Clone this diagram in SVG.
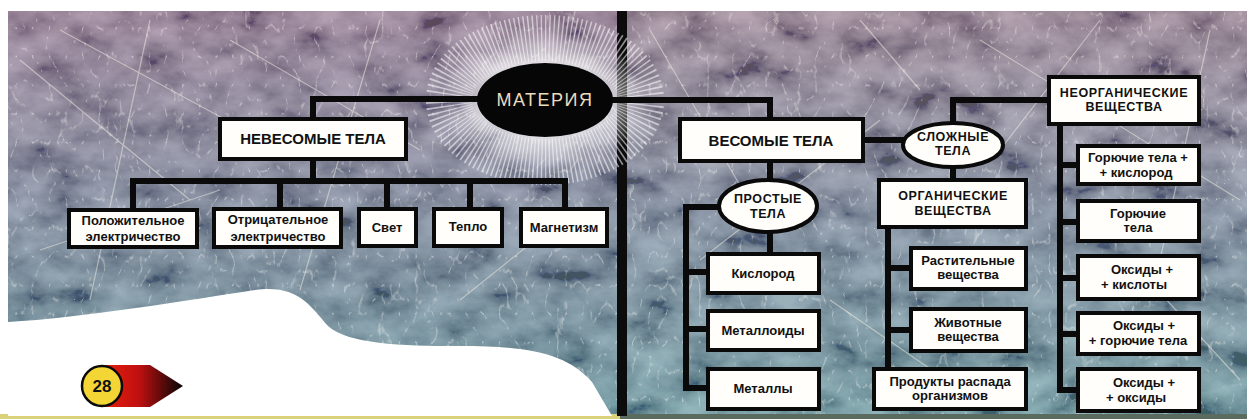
<svg xmlns="http://www.w3.org/2000/svg" width="1247" height="419" viewBox="0 0 1247 419">
<style>
.box{fill:#fffefa;stroke:#0a0a0a;stroke-width:4}
.ell{fill:#fffefa;stroke:#0a0a0a;stroke-width:4}
.t{font-family:"Liberation Sans",Arial,sans-serif;font-weight:bold;fill:#111;text-anchor:middle}
.s{font-size:13px}
.h{font-size:15px}
.c{font-size:12.5px;letter-spacing:0.6px}
.con{fill:none;stroke:#0a0a0a;stroke-width:6;stroke-linejoin:miter;stroke-linecap:square}
.streak{fill:none;stroke:#f4efe6;stroke-width:1.2;opacity:0.5}
</style>
<defs>
<linearGradient id="bgL" x1="0" y1="0" x2="0" y2="1">
<stop offset="0" stop-color="#8c6c86"/>
<stop offset="0.45" stop-color="#6f7a90"/>
<stop offset="1" stop-color="#4f8890"/>
</linearGradient>
<linearGradient id="bgR" x1="0" y1="0" x2="0" y2="1">
<stop offset="0" stop-color="#907486"/>
<stop offset="0.5" stop-color="#718296"/>
<stop offset="1" stop-color="#5a9298"/>
</linearGradient>
<filter id="marble" x="0" y="0" width="100%" height="100%">
<feTurbulence type="fractalNoise" baseFrequency="0.022 0.035" numOctaves="5" seed="7"/>
<feColorMatrix type="matrix" values="1.7 0 0 0 -0.38  1.7 0 0 0 -0.38  1.7 0 0 0 -0.33  0 0 0 0 0.34"/>
</filter>
<filter id="fine" x="0" y="0" width="100%" height="100%">
<feTurbulence type="turbulence" baseFrequency="0.06 0.035" numOctaves="3" seed="2"/>
<feColorMatrix type="matrix" values="0 0 0 0 1  0 0 0 0 0.97  0 0 0 0 0.93  -7 0 0 0 0.95"/>
</filter>
<radialGradient id="glow" cx="0.5" cy="0.5" r="0.5">
<stop offset="0.55" stop-color="#ffffff" stop-opacity="0.95"/>
<stop offset="1" stop-color="#ffffff" stop-opacity="0"/>
</radialGradient>
<linearGradient id="badge" x1="0" y1="0" x2="1" y2="0">
<stop offset="0" stop-color="#e8200c"/>
<stop offset="0.45" stop-color="#c01010"/>
<stop offset="1" stop-color="#050505"/>
</linearGradient>
</defs>

<!-- page background -->
<rect x="0" y="0" width="1247" height="419" fill="#ffffff"/>
<rect x="8" y="11" width="612" height="405" fill="url(#bgL)"/>
<rect x="620" y="11" width="627" height="405" fill="url(#bgR)"/>
<rect x="8" y="11" width="1239" height="405" filter="url(#marble)"/>
<rect x="8" y="11" width="1239" height="405" filter="url(#fine)" opacity="0.45"/>
<g id="streaks">
<path class="streak" d="M20,60 L190,200 M60,30 L300,160 M150,20 L90,300 M230,40 L420,150 M380,20 L300,290 M650,30 L760,220 M700,260 L880,120 M980,40 L1240,200 M1100,20 L1000,150 M1130,260 L1240,380 M830,300 L990,410 M560,220 L460,300 M40,250 L220,190 M1210,30 L1160,260 M860,20 L920,90"/>
</g>
<rect x="0" y="414" width="620" height="5" fill="#d9d27a"/>
<rect x="620" y="414" width="627" height="5" fill="#5c6b60"/>

<!-- white blob lower left -->
<path id="blob" d="M8,322 C80,318 190,300 255,290 C298,284 310,306 328,326 C348,344 400,346 460,346 C525,346 566,352 592,382 L612,416 L8,416 Z" fill="#ffffff"/>

<!-- book spine -->
<rect x="617" y="11" width="10" height="405" fill="#0c0c0c"/>

<!-- glow around МАТЕРИЯ -->
<g id="glowrays">
<ellipse cx="545" cy="100" rx="104" ry="68" fill="url(#glow)" opacity="0.75"/>
<ellipse cx="545" cy="100" rx="96" ry="62" fill="none" stroke="#ffffff" stroke-width="46" stroke-dasharray="1.3 2.7" opacity="0.55"/>
</g>

<g id="connectors">
<path class="con" d="M313,117 V99 H480"/>
<path class="con" d="M612,100 H770 V117"/>
<path class="con" d="M313,160 V181"/>
<path class="con" d="M133,208 V181 H565 V208"/>
<path class="con" d="M280,181 V208 M387,181 V208 M470,181 V208"/>
<path class="con" d="M865,140 H903"/>
<path class="con" d="M953,122 V100 H1047"/>
<path class="con" d="M953,168 V178"/>
<path class="con" d="M770,163 V179"/>
<path class="con" d="M770,233 V253"/>
<path class="con" d="M718,207 H686 V388 H707 M686,272 H707 M686,329 H707"/>
<path class="con" d="M888,228 V368 M888,268 H910 M888,330 H910"/>
<path class="con" d="M1060,125 V390 H1077 M1060,165 H1077 M1060,222 H1077 M1060,278 H1077 M1060,334 H1077"/>
</g>

<g id="n-materiya">
<ellipse cx="545" cy="100" rx="68" ry="37" fill="#060606"/>
<text x="545" y="106" font-family="Liberation Sans, Arial, sans-serif" font-size="18" letter-spacing="1.5" fill="#eadcbe" text-anchor="middle">МАТЕРИЯ</text>
</g>

<g id="n-nevesomye">
<rect class="box" x="220" y="119" width="186" height="40"/>
<text class="t h" x="313" y="144">НЕВЕСОМЫЕ ТЕЛА</text>
</g>
<g id="n-polozh">
<rect class="box" x="69" y="210" width="128" height="37"/>
<text class="t s" x="133" y="225">Положительное</text>
<text class="t s" x="133" y="241">электричество</text>
</g>
<g id="n-otric">
<rect class="box" x="214" y="209" width="127" height="38"/>
<text class="t s" x="278" y="224">Отрицательное</text>
<text class="t s" x="278" y="241">электричество</text>
</g>
<g id="n-svet">
<rect class="box" x="359" y="209" width="57" height="37"/>
<text class="t s" x="387" y="232">Свет</text>
</g>
<g id="n-teplo">
<rect class="box" x="434" y="209" width="68" height="37"/>
<text class="t s" x="468" y="231">Тепло</text>
</g>
<g id="n-magn">
<rect class="box" x="521" y="209" width="86" height="37"/>
<text class="t s" x="564" y="232">Магнетизм</text>
</g>

<g id="n-vesomye">
<rect class="box" x="680" y="119" width="183" height="42"/>
<text class="t h" x="771" y="146">ВЕСОМЫЕ ТЕЛА</text>
</g>
<g id="n-slozhnye">
<ellipse class="ell" cx="953" cy="145" rx="50" ry="22"/>
<text class="t c" x="953" y="141">СЛОЖНЫЕ</text>
<text class="t c" x="953" y="155">ТЕЛА</text>
</g>
<g id="n-prostye">
<ellipse class="ell" cx="768" cy="206" rx="49" ry="26"/>
<text class="t c" x="768" y="203">ПРОСТЫЕ</text>
<text class="t c" x="768" y="218">ТЕЛА</text>
</g>
<g id="n-neorg">
<rect class="box" x="1049" y="77" width="150" height="47"/>
<text class="t c" x="1124" y="97">НЕОРГАНИЧЕСКИЕ</text>
<text class="t c" x="1124" y="111">ВЕЩЕСТВА</text>
</g>
<g id="n-org">
<rect class="box" x="879" y="180" width="147" height="47"/>
<text class="t c" x="953" y="200">ОРГАНИЧЕСКИЕ</text>
<text class="t c" x="953" y="215">ВЕЩЕСТВА</text>
</g>

<g id="n-kislorod">
<rect class="box" x="708" y="254" width="111" height="39"/>
<text class="t s" x="763" y="278">Кислород</text>
</g>
<g id="n-metalloidy">
<rect class="box" x="708" y="311" width="111" height="39"/>
<text class="t s" x="763" y="335">Металлоиды</text>
</g>
<g id="n-metally">
<rect class="box" x="708" y="369" width="111" height="40"/>
<text class="t s" x="763" y="393">Металлы</text>
</g>

<g id="n-rastit">
<rect class="box" x="911" y="248" width="115" height="41"/>
<text class="t s" x="968" y="265">Растительные</text>
<text class="t s" x="968" y="279">вещества</text>
</g>
<g id="n-zhivot">
<rect class="box" x="911" y="309" width="115" height="42"/>
<text class="t s" x="968" y="327">Животные</text>
<text class="t s" x="968" y="341">вещества</text>
</g>
<g id="n-produkty">
<rect class="box" x="874" y="369" width="152" height="40"/>
<text class="t s" x="950" y="386">Продукты распада</text>
<text class="t s" x="950" y="400">организмов</text>
</g>

<g id="n-gor-kisl">
<rect class="box" x="1078" y="146" width="121" height="38"/>
<text class="t s" x="1138" y="162">Горючие тела +</text>
<text class="t s" x="1136" y="177">+ кислород</text>
</g>
<g id="n-gor">
<rect class="box" x="1078" y="201" width="121" height="40"/>
<text class="t s" x="1138" y="218">Горючие</text>
<text class="t s" x="1138" y="232">тела</text>
</g>
<g id="n-oks-kisl">
<rect class="box" x="1078" y="256" width="121" height="43"/>
<text class="t s" x="1142" y="274">Оксиды +</text>
<text class="t s" x="1134" y="289">+ кислоты</text>
</g>
<g id="n-oks-gor">
<rect class="box" x="1078" y="313" width="121" height="41"/>
<text class="t s" x="1144" y="330">Оксиды +</text>
<text class="t s" x="1138" y="345">+ горючие тела</text>
</g>
<g id="n-oks-oks">
<rect class="box" x="1078" y="369" width="121" height="42"/>
<text class="t s" x="1144" y="387">Оксиды +</text>
<text class="t s" x="1136" y="402">+ оксиды</text>
</g>

<g id="page-badge">
<path d="M102,365 H150 L183,386 L150,407 H102 Z" fill="url(#badge)"/>
<circle cx="102" cy="386" r="20" fill="#f3d636" stroke="#0a0a0a" stroke-width="2.5"/>
<text x="102" y="392" font-family="Liberation Sans, Arial, sans-serif" font-size="17" font-weight="bold" fill="#111" text-anchor="middle">28</text>
</g>
</svg>
